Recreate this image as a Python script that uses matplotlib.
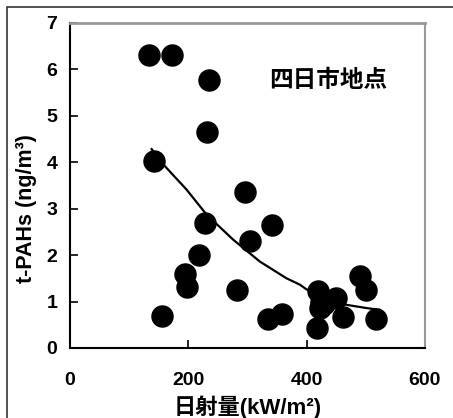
import numpy as np
import matplotlib.pyplot as plt
from matplotlib.patches import Rectangle

plt.rcParams['font.family'] = ['Liberation Sans', 'Noto Sans CJK JP', 'DejaVu Sans']

# 日射量 (kW/m2) と t-PAHs (ng/m3)
radiation = [133, 173, 235, 232, 142, 296, 342, 228, 304, 218, 194, 197, 156,
             283, 335, 359, 420, 450, 417, 422, 461, 490, 501, 518, 430, 425]
pahs = [6.31, 6.30, 5.77, 4.65, 4.02, 3.35, 2.64, 2.68, 2.30, 2.00, 1.60, 1.32, 0.69,
        1.24, 0.62, 0.73, 1.22, 1.07, 0.42, 0.86, 0.66, 1.55, 1.25, 0.62, 0.95, 1.00]

# 近似曲線
trend_x = [138, 160, 197, 231, 276, 321, 366, 389, 400, 433, 467, 501, 524]
trend_y = [4.28, 3.92, 3.41, 2.87, 2.33, 1.86, 1.50, 1.36, 1.26, 1.08, 0.93, 0.86, 0.82]

x_ticks = [0, 200, 400, 600]
y_ticks = [0, 1, 2, 3, 4, 5, 6, 7]

fig = plt.figure(figsize=(4.53, 4.18), dpi=100)
ax = fig.add_axes([0.1545, 0.1675, 0.7835, 0.778])

# 外枠
fig.patches.append(Rectangle((7 / 453, -0.1), 1.2, 1 - 7 / 418 + 0.1,
                             transform=fig.transFigure, fill=False,
                             edgecolor='#333333', linewidth=1.2))

ax.scatter(radiation, pahs, s=230, color='black', zorder=3)
ax.plot(trend_x, trend_y, color='black', lw=1.6, zorder=4)

ax.set_xlim(0, 600)
ax.set_ylim(0, 7)
ax.set_xticks(x_ticks)
ax.set_yticks(y_ticks)
ax.tick_params(direction='in', length=6, width=1.2, labelsize=14)
ax.tick_params(axis='x', pad=17)
ax.tick_params(axis='y', pad=9)
for lab in ax.get_xticklabels() + ax.get_yticklabels():
    lab.set_fontweight('bold')

ax.spines['left'].set_linewidth(1.5)
ax.spines['bottom'].set_linewidth(1.5)
ax.spines['top'].set_color('#999999')
ax.spines['right'].set_color('#999999')
ax.spines['top'].set_linewidth(2)
ax.spines['right'].set_linewidth(1.5)

ax.set_xlabel('日射量(kW/m²)', fontsize=16, fontweight='bold')
ax.xaxis.set_label_coords(0.5, -0.145)
ax.set_ylabel('t-PAHs (ng/m³)', fontsize=15.5, fontweight='bold')
ax.yaxis.set_label_coords(-0.093, 0.43)
ax.text(437, 5.75, '四日市地点', ha='center', va='center',
        fontsize=17, fontweight='bold')

fig.savefig('out.png', dpi=100)
